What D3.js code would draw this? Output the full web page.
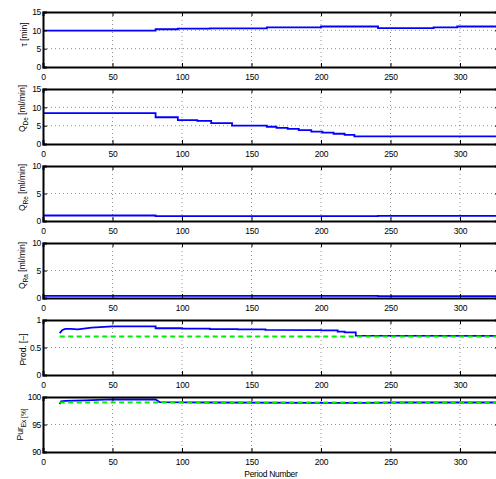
<!DOCTYPE html>
<html>
<head>
<meta charset="utf-8">
<script src="https://cdn.jsdelivr.net/npm/d3@7"></script>
<style>
  body { margin: 0; background: #fff; }
  text { font-family: "Liberation Sans", Arial, sans-serif; fill: #000; }
  .tick-label { font-size: 8.5px; letter-spacing: -0.3px; }
  .y-label { font-size: 8.5px; }
</style>
</head>
<body>
<div id="chart"></div>
<script>
// Данные: номера периодов и значения для каждой панели
const periodEnd = 328;

const tauT = [0, 81, 97, 120, 161, 200, 241, 281, 298, periodEnd];
const tauV = [9.9, 10.3, 10.45, 10.55, 10.8, 11.05, 10.6, 10.8, 11.05, 11.05];

const qDeT = [0, 81, 97, 111, 121, 136, 161, 168, 176, 184, 193, 201, 209, 217, 224, periodEnd];
const qDeV = [8.4, 7.3, 6.5, 6.3, 5.7, 5.0, 4.7, 4.4, 4.1, 3.8, 3.4, 3.1, 2.8, 2.5, 2.1, 2.05];

const qReT = [0, 81, 241, periodEnd];
const qReV = [1.0, 0.9, 0.95, 0.95];

const qRaT = [0, 241, periodEnd];
const qRaV = [0.4, 0.35, 0.35];

const prodT = [12, 14, 16, 20, 25, 35, 50, 81, 81, 100, 100, 120, 120, 140, 140, 160, 160, 200, 200, 212, 212, 217, 217, 225, 225, periodEnd];
const prodV = [0.76, 0.82, 0.84, 0.84, 0.83, 0.86, 0.885, 0.885, 0.85, 0.85, 0.845, 0.845, 0.835, 0.835, 0.83, 0.83, 0.82, 0.815, 0.81, 0.81, 0.79, 0.79, 0.775, 0.775, 0.715, 0.71];
const prodTargetT = [12, periodEnd];
const prodTargetV = [0.7, 0.7];

const purT = [12, 13, 16, 30, 50, 81, 84, 120, 200, 230, 260, periodEnd];
const purV = [98.7, 99.2, 99.3, 99.4, 99.55, 99.55, 99.05, 99.0, 98.95, 98.95, 99.0, 99.0];
const purTargetT = [12, periodEnd];
const purTargetV = [99, 99];

const xTicks = [0, 50, 100, 150, 200, 250, 300];

// Описание панелей (домены, тики, подписи); пунктир рисуется поверх
const panels = [
  { main: "τ [min]", sub: "", rest: "", yDomain: [0, 15], yTicks: [0, 5, 10, 15], step: true,
    series: [{ t: tauT, v: tauV }] },
  { main: "Q", sub: "De", rest: " [ml/min]", yDomain: [0, 15], yTicks: [0, 5, 10, 15], step: true,
    series: [{ t: qDeT, v: qDeV }] },
  { main: "Q", sub: "Re", rest: " [ml/min]", yDomain: [0, 10], yTicks: [0, 5, 10], step: true,
    series: [{ t: qReT, v: qReV }] },
  { main: "Q", sub: "Ra", rest: " [ml/min]", yDomain: [0, 10], yTicks: [0, 5, 10], step: true,
    series: [{ t: qRaT, v: qRaV }] },
  { main: "Prod. [–]", sub: "", rest: "", yDomain: [0, 1], yTicks: [0, 0.5, 1], step: false,
    series: [{ t: prodT, v: prodV }, { t: prodTargetT, v: prodTargetV, dashed: true }] },
  { main: "Pur", sub: "Ex [%]", rest: "", yDomain: [90, 100], yTicks: [90, 95, 100], step: false,
    series: [{ t: purT, v: purV }, { t: purTargetT, v: purTargetV, dashed: true }] }
];

// Размеры
const W = 496, H = 479;
const left = 43, top0 = 12, panelH = 55, gap = 77;
const labelX = [27, 25, 25, 25, 26, 23];
const labelDy = [-5, -8, -6, -5, 2, 0];

const svg = d3.select("#chart")
  .append("svg")
  .attr("width", W)
  .attr("height", H);

const xScale = d3.scaleLinear()
  .domain([0, periodEnd])
  .range([left, left + periodEnd * 1.39]);

panels.forEach((p, i) => {
  const top = top0 + i * gap;
  const bottom = top + panelH;
  const yScale = d3.scaleLinear().domain(p.yDomain).range([bottom, top]);
  const g = svg.append("g");

  // клип для линий
  svg.append("clipPath").attr("id", "clip" + i)
    .append("rect")
    .attr("x", left).attr("y", top - 1)
    .attr("width", xScale.range()[1] - left).attr("height", panelH + 2);

  // сетка (точечная)
  g.selectAll(".vgrid").data(xTicks.slice(1))
    .enter().append("line")
    .attr("x1", d => xScale(d)).attr("x2", d => xScale(d))
    .attr("y1", top).attr("y2", bottom)
    .attr("stroke", "#777").attr("stroke-width", 0.8)
    .attr("stroke-dasharray", "1,3");

  g.selectAll(".hgrid").data(p.yTicks.slice(1, -1))
    .enter().append("line")
    .attr("x1", left).attr("x2", xScale.range()[1])
    .attr("y1", d => yScale(d)).attr("y2", d => yScale(d))
    .attr("stroke", "#777").attr("stroke-width", 0.8)
    .attr("stroke-dasharray", "1,3");

  // линии данных
  p.series.forEach(s => {
    const pts = s.t.map((t, k) => ({ t: t, v: s.v[k] }));
    const line = d3.line()
      .x(d => xScale(d.t))
      .y(d => yScale(d.v))
      .curve(p.step && !s.dashed ? d3.curveStepAfter : d3.curveLinear);
    g.append("path")
      .datum(pts)
      .attr("clip-path", `url(#clip${i})`)
      .attr("d", line)
      .attr("fill", "none")
      .attr("stroke", s.dashed ? "#00ee00" : "#0000ff")
      .attr("stroke-width", 1.8)
      .attr("stroke-dasharray", s.dashed ? "5,3.5" : null);
  });

  // оси: нижняя с подписями, верхняя/правая только с тиками внутрь
  const xAxisB = d3.axisBottom(xScale).tickValues(xTicks).tickSize(-4).tickPadding(7).tickFormat(d3.format("d"));
  const xAxisT = d3.axisTop(xScale).tickValues(xTicks).tickSize(-4).tickFormat("");
  const yAxisL = d3.axisLeft(yScale).tickValues(p.yTicks).tickSize(-4).tickPadding(2).tickFormat(d => String(d));
  const yAxisR = d3.axisRight(yScale).tickValues(p.yTicks).tickSize(-4).tickFormat("");

  const axes = [
    g.append("g").attr("transform", `translate(0,${bottom})`).call(xAxisB),
    g.append("g").attr("transform", `translate(0,${top})`).call(xAxisT),
    g.append("g").attr("transform", `translate(${left},0)`).call(yAxisL),
    g.append("g").attr("transform", `translate(${xScale.range()[1]},0)`).call(yAxisR)
  ];
  axes.forEach(a => {
    a.select(".domain").attr("stroke", "#000").attr("stroke-width", 2);
    a.selectAll(".tick line").attr("stroke", "#000").attr("stroke-width", 1);
    a.selectAll(".tick text").attr("class", "tick-label").attr("font-family", null).attr("font-size", null);
  });

  // подпись оси Y
  const lab = svg.append("text")
    .attr("class", "y-label")
    .attr("text-anchor", "middle")
    .attr("transform", `translate(${labelX[i]},${(top + bottom) / 2 + labelDy[i]}) rotate(-90)`);
  lab.append("tspan").text(p.main);
  if (p.sub) {
    lab.append("tspan").attr("dy", 2.5).attr("font-size", "6.5px").text(p.sub);
    if (p.rest) lab.append("tspan").attr("dy", -2.5).text(p.rest);
  }
});

// подпись оси X
svg.append("text")
  .attr("class", "tick-label")
  .attr("text-anchor", "middle")
  .attr("x", xScale(periodEnd / 2))
  .attr("y", 477)
  .text("Period Number");
</script>
</body>
</html>
